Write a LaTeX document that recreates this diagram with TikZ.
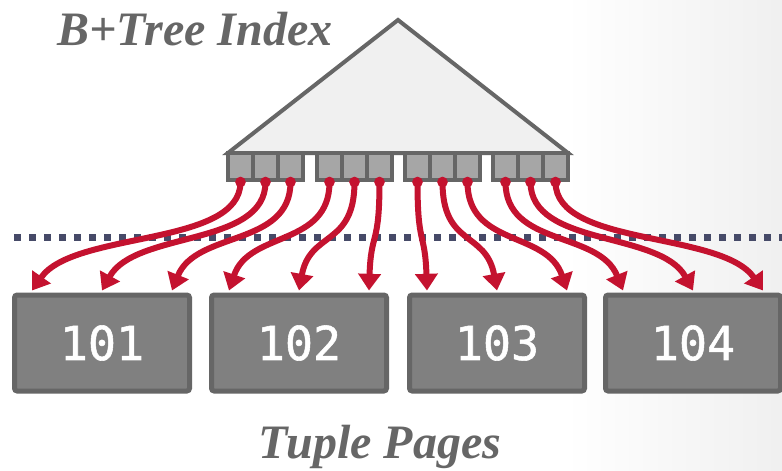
\documentclass[tikz,border=0pt]{standalone}
\usepackage{fontspec}
\setmainfont{Liberation Serif}
\newfontfamily\pagefont[FakeBold=1.2]{DejaVu Sans Mono}
\usetikzlibrary{arrows.meta,calc}
\definecolor{edgegray}{HTML}{666666}
\definecolor{pagefill}{HTML}{808080}
\definecolor{keyfill}{HTML}{A6A6A6}
\definecolor{treefill}{HTML}{F0F0F0}
\definecolor{ptrred}{HTML}{C4122F}
\definecolor{divider}{HTML}{464A68}
\tikzset{
  keybox/.style={draw=edgegray, fill=keyfill, line width=3pt,
    minimum width=18.75pt, minimum height=20.25pt, inner sep=0pt},
  pagebox/.style={draw=edgegray, fill=pagefill, line width=3.75pt,
    rounded corners=2pt, minimum width=131.25pt, minimum height=72pt,
    inner sep=0pt, text=white, font=\pagefont\fontsize{35}{35}\selectfont},
  caption/.style={text=edgegray, inner sep=0pt,
    font=\bfseries\itshape\fontsize{36}{40}\selectfont},
  link/.style={draw=ptrred, line width=4.5pt,
    -{Triangle[width=16.5pt,length=12.5pt]}},
  keydot/.style={fill=ptrred, draw=none, circle, minimum size=8pt, inner sep=0pt}
}
\newcommand{\pagenum}[1]{\raisebox{-3pt}{#1}}
\begin{document}
\begin{tikzpicture}[x=0.75pt,y=-0.75pt]
\useasboundingbox (0,0) rectangle (782,471);
% background with a soft grey fade on the right
\fill[white] (0,0) rectangle (782,471);
\shade[left color=white, right color=black!6, draw=none] (565,0) rectangle (782,471);

% captions
\node[caption, anchor=base] (title) at (195,45) {B+Tree Index};
\node[caption, anchor=base] (caption) at (380,458) {Tuple Pages};

% index triangle
\filldraw[fill=treefill, draw=edgegray, line width=3pt, line join=miter]
  (398,20) -- (568,153) -- (228,153) -- cycle;

% leaf keys, four groups of three
\foreach \g/\gx in {0/228, 1/317, 2/405, 3/493}{
  \foreach \j in {1,2,3}{
    \pgfmathtruncatemacro{\idx}{3*\g+\j}
    \node[keybox] (k\idx) at ({\gx+25*\j-12.5},166.5) {};
  }
}

% divider
\draw[divider, line width=5.25pt, dash pattern=on 5.25pt off 6pt] (14,237) -- (782,237);

% tuple pages
\node[pagebox] (p1) at (102,343) {\pagenum{101}};
\node[pagebox] (p2) at (299,343) {\pagenum{102}};
\node[pagebox] (p3) at (497,343) {\pagenum{103}};
\node[pagebox] (p4) at (693,343) {\pagenum{104}};

% pointers from keys to pages
\foreach \k/\p/\off/\d in {1/1/-70/42, 2/1/0/33, 3/1/70/24,
                           4/2/-70/20, 5/2/0/11, 6/2/70/2,
                           7/3/-70/-2, 8/3/0/-11, 9/3/70/-20,
                           10/4/-70/-24, 11/4/0/-33, 12/4/70/-42}{
  \draw[link] (k\k.south) .. controls +(0,65) and +(\d,-60) .. ($(p\p.north)+(\off,-2)$);
  \node[keydot] (d\k) at (k\k.south) {};
}
\end{tikzpicture}
\end{document}
